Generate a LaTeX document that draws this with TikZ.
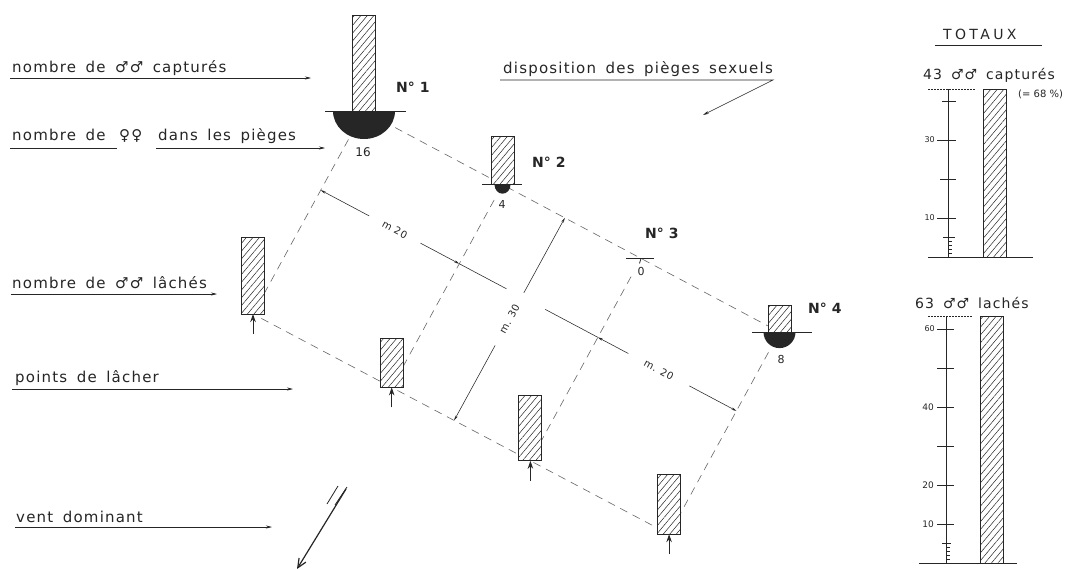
\documentclass[tikz,border=0pt]{standalone}
\usepackage{fontspec}
\setmainfont{DejaVu Sans}
\newfontfamily\lab[LetterSpace=8,WordSpace=1.6]{DejaVu Sans}
\newfontfamily\dimfont[LetterSpace=6]{DejaVu Sans}
\newfontfamily\totfont[LetterSpace=24]{DejaVu Sans}
\usetikzlibrary{arrows.meta,patterns.meta,calc}
\colorlet{ink}{black!85}
\colorlet{dashc}{black!60}
\tikzset{
  lbl/.style={font=\lab\fontsize{15}{18}\selectfont, text=ink, inner sep=0pt, anchor=base west},
  totlbl/.style={font=\lab\fontsize{14}{17}\selectfont, text=ink, inner sep=0pt, anchor=base west},
  uline/.style={draw=ink, line width=0.6pt, -{Stealth[length=6pt,width=3pt]}},
  plainline/.style={draw=ink, line width=0.6pt},
  hbar/.style={draw=ink, line width=0.9pt, preaction={fill=white},
    pattern={Lines[angle=50,distance=5pt,line width=0.5pt]}, pattern color=ink,
    minimum width=23pt, inner sep=0pt, outer sep=0pt, anchor=south},
  guide/.style={draw=dashc, line width=0.6pt, dash pattern=on 8pt off 6pt},
  dimline/.style={draw=ink, line width=0.55pt},
  dimtip/.style={-{Stealth[length=5pt,width=2.5pt]}},
  nlab/.style={font=\bfseries\fontsize{14}{16}\selectfont, text=ink, inner sep=0pt, anchor=base west},
  numlab/.style={font=\fontsize{11}{13}\selectfont, text=ink, inner sep=0pt},
  mlab/.style={font=\dimfont\fontsize{10}{12}\selectfont, text=ink, inner sep=0pt},
  rel/.style={draw=ink, line width=1pt, -{Stealth[length=8pt,width=5.5pt]}},
  trapline/.style={draw=ink, line width=1pt},
  axisline/.style={draw=ink, line width=0.8pt},
  tickline/.style={draw=ink, line width=0.5pt},
  toplineS/.style={draw=ink, line width=0.5pt, dash pattern=on 2pt off 1pt},
  scalelab/.style={font=\fontsize{8}{10}\selectfont, text=ink, inner sep=0pt, anchor=east},
}
\begin{document}
\begin{tikzpicture}[x=1pt,y=-1pt]
\path[use as bounding box, fill=white] (0,0) rectangle (1076,570);

% ---------- trap and release positions ----------
\coordinate (T1) at (364,111);
\coordinate (T2) at (502.5,184.7);
\coordinate (T3) at (641,258.4);
\coordinate (T4) at (779.5,332.1);
\coordinate (R1) at (253,314);
\coordinate (R2) at (391.7,387.4);
\coordinate (R3) at (530.4,460.8);
\coordinate (R4) at (669.1,534.2);

% ---------- dashed guide lines ----------
\draw[guide] ($(T1)!0.075!(T4)$) -- ($(T1)!0.972!(T4)$);
\draw[guide] ($(R1)!0.02!(R4)$) -- ($(R1)!0.96!(R4)$);
\draw[guide] ($(T1)!0.14!(R1)$) -- (R1);
\draw[guide] ($(T2)!0.075!(R2)$) -- (R2);
\draw[guide] ($(T3)!0.09!(R3)$) -- (R3);
\draw[guide] ($(T4)!0.10!(R4)$) -- (R4);

% ---------- dimension lines ----------
\coordinate (A) at ($(T1)!0.39!(R1)$);
\coordinate (B) at ($(T2)!0.39!(R2)$);
\draw[dimline, dimtip] ($(A)!0.35!(B)$) -- (A);
\draw[dimline, dimtip] ($(A)!0.72!(B)$) -- (B);
\draw[dimline] (B) -- ($(A)!1.34!(B)$);
\node[mlab, rotate=-28] (m20a) at ($(A)!0.535!(B)$) {m 20};

\coordinate (C) at ($(T3)!0.39!(R3)$);
\coordinate (D) at ($(T4)!0.39!(R4)$);
\draw[dimline] ($(C)!-0.38!(D)$) -- (C);
\draw[dimline, dimtip] ($(C)!0.22!(D)$) -- (C);
\draw[dimline, dimtip] ($(C)!0.66!(D)$) -- (D);
\node[mlab, rotate=-28] (m20b) at ($(C)!0.44!(D)$) {m. 20};

\coordinate (E) at ($(T2)!0.45!(T3)$);
\coordinate (F) at ($(R2)!0.45!(R3)$);
\draw[dimline, dimtip] ($(E)!0.37!(F)$) -- (E);
\draw[dimline, dimtip] ($(E)!0.63!(F)$) -- (F);
\node[mlab, rotate=62] (m30) at ($(E)!0.5!(F)$) {m. 30};

% ---------- traps ----------
\node[hbar, minimum height=96pt] (b1) at (T1) {};
\node[hbar, minimum height=48pt] (b2) at (T2) {};
\node[hbar, minimum height=27pt] (b4) at (T4) {};
\fill[ink] ($(T1)+(-31,0)$) arc[start angle=180, end angle=360, x radius=31pt, y radius=28pt] -- cycle;
\fill[ink] ($(T2)+(-8,0)$) arc[start angle=180, end angle=360, x radius=8pt, y radius=9pt] -- cycle;
\fill[ink] ($(T4)+(-16,0)$) arc[start angle=180, end angle=360, x radius=16pt, y radius=16pt] -- cycle;
\draw[trapline] ($(T1)+(-39,0)$) -- ($(T1)+(42,0)$);
\draw[trapline] ($(T2)+(-20.5,0)$) -- ($(T2)+(19.5,0)$);
\draw[trapline] ($(T3)+(-15,0)$) -- ($(T3)+(13,0)$);
\draw[ink, line width=0.8pt] (T3) -- ++(-1.5,5);
\draw[trapline] ($(T4)+(-27.5,0)$) -- ($(T4)+(32.5,0)$);

\node[nlab] (n1) at (396,92) {N° 1};
\node[nlab] (n2) at (532,167) {N° 2};
\node[nlab] (n3) at (645,238) {N° 3};
\node[nlab] (n4) at (808,313) {N° 4};
\node[numlab, font=\fontsize{12}{14}\selectfont] (c1) at (363,152) {16};
\node[numlab] (c2) at (502,204) {4};
\node[numlab] (c3) at (641,271) {0};
\node[numlab] (c4) at (781,359) {8};

% ---------- release points ----------
\node[hbar, minimum height=77pt] (rb1) at (R1) {};
\node[hbar, minimum height=49pt] (rb2) at (R2) {};
\node[hbar, minimum height=65pt] (rb3) at (R3) {};
\node[hbar, minimum height=60pt] (rb4) at (R4) {};
\coordinate (a1) at ($(R1)+(0,20)$);
\coordinate (a2) at ($(R2)+(0,20)$);
\coordinate (a3) at ($(R3)+(0,20)$);
\coordinate (a4) at ($(R4)+(0,20)$);
\draw[rel] (a1) -- (rb1.south);
\draw[rel] (a2) -- (rb2.south);
\draw[rel] (a3) -- (rb3.south);
\draw[rel] (a4) -- (rb4.south);

% ---------- wind ----------
\coordinate (w1) at (346,489);
\coordinate (w2) at (297,569);
\draw[ink, line width=1.2pt, -{Straight Barb[length=9pt,width=8pt]}] (w1) -- (w2);
\draw[ink, line width=0.8pt] (327,504) -- (338,486);
\draw[ink, line width=0.8pt] (335,505) -- (347,487);

% ---------- left legend ----------
\node[lbl] (l1) at (12,72) {nombre de ♂♂ capturés};
\coordinate (l1s) at (10,78); \coordinate (l1e) at (311,78);
\draw[uline] (l1s) -- (l1e);

\node[lbl] (l2a) at (12,140) {nombre de};
\node[lbl] (l2b) at (119,140) {♀♀};
\node[lbl] (l2c) at (158,140) {dans les pièges};
\coordinate (l2s) at (10,148); \coordinate (l2m) at (117,148);
\coordinate (l2n) at (156,148); \coordinate (l2e) at (325,148);
\draw[plainline] (l2s) -- (l2m);
\draw[uline] (l2n) -- (l2e);

\node[lbl] (l3) at (12,288) {nombre de ♂♂ lâchés};
\coordinate (l3s) at (11,294); \coordinate (l3e) at (217,294);
\draw[uline] (l3s) -- (l3e);

\node[lbl] (l4) at (15,382) {points de lâcher};
\coordinate (l4s) at (12,389); \coordinate (l4e) at (293,389);
\draw[uline] (l4s) -- (l4e);

\node[lbl] (l5) at (16,522) {vent dominant};
\coordinate (l5s) at (15,527); \coordinate (l5e) at (272,527);
\draw[uline] (l5s) -- (l5e);

\node[lbl] (disp) at (503,73) {disposition des pièges sexuels};
\coordinate (ds) at (500,80); \coordinate (dm) at (773,80); \coordinate (de) at (703,115);
\draw[uline] (ds) -- (dm) -- (de);

% ---------- totals ----------
\node[font=\totfont\fontsize{14}{16}\selectfont, text=ink, inner sep=0pt, anchor=base west] (tot) at (943,39) {TOTAUX};
\coordinate (ts) at (935,45); \coordinate (te) at (1042,45);
\draw[plainline] (ts) -- (te);

\node[totlbl] (cap) at (923,79) {43 ♂♂ capturés};
\node[font=\fontsize{10}{12}\selectfont, text=ink, inner sep=0pt, anchor=base west] (pct) at (1018,97) {(= 68 \%)};

% scale 1
\draw[toplineS] (928,89) -- (975,89);
\draw[axisline] (948,89) -- (948,257);
\foreach \k in {1,2,3,4} \draw[tickline] (948,{257-3.9*\k}) -- (952,{257-3.9*\k});
\draw[tickline] (943,237.5) -- (955,237.5);
\draw[tickline] (937,218) -- (956,218);
\draw[tickline] (940,179) -- (956,179);
\draw[tickline] (937,140) -- (956,140);
\draw[tickline] (942,101) -- (956,101);
\node[scalelab] (s10) at (935,218) {10};
\node[scalelab] (s30) at (935,140) {30};
\node[hbar, minimum height=168pt] (tb1) at (994.5,257) {};
\draw[axisline] (928,257) -- (1033,257);

\node[totlbl] (lach) at (915,308) {63 ♂♂ lachés};
% scale 2
\draw[toplineS] (928,316) -- (972,316);
\draw[axisline] (946,316) -- (946,563);
\foreach \k in {1,2,3,4} \draw[tickline] (946,{563-3.9*\k}) -- (950,{563-3.9*\k});
\draw[tickline] (942,543.5) -- (951,543.5);
\foreach \y in {524,485,446,407,368,329} \draw[tickline] (937,\y) -- (954,\y);
\node[scalelab, font=\fontsize{9}{11}\selectfont] (t10) at (934,524) {10};
\node[scalelab, font=\fontsize{9}{11}\selectfont] (t20) at (934,485) {20};
\node[scalelab, font=\fontsize{9}{11}\selectfont] (t40) at (934,407) {40};
\node[scalelab, font=\fontsize{8}{10}\selectfont] (t60) at (935,329) {60};
\node[hbar, minimum height=247pt] (tb2) at (991.5,563) {};
\draw[axisline] (919,563) -- (1017,563);
\end{tikzpicture}
\end{document}
